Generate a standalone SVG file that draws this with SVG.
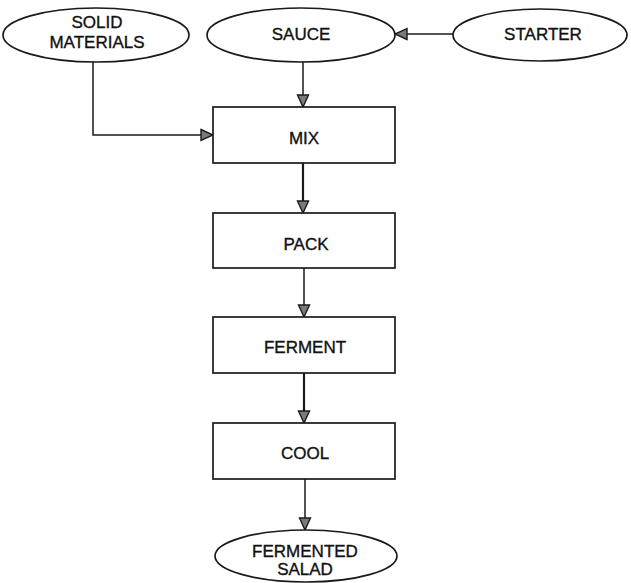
<svg xmlns="http://www.w3.org/2000/svg" width="631" height="583" viewBox="0 0 631 583">
<style>
.n{fill:#fff;stroke:#1a1a1a;stroke-width:1.7}
.t{font-family:"Liberation Sans",Arial,sans-serif;font-size:17px;fill:#111;stroke:#111;stroke-width:0.35;text-anchor:middle}
.c{fill:none;stroke:#1a1a1a;stroke-width:1.5}
.k{stroke-width:2.2}
</style>
<defs>
<marker id="ah" markerUnits="userSpaceOnUse" markerWidth="14" markerHeight="14" viewBox="0 0 14 14" refX="13" refY="7" orient="auto">
<path d="M1,1.5 L13,7 L1,12.5 Z" fill="#7a7a7a" stroke="#1a1a1a" stroke-width="1.4" stroke-linejoin="miter"/>
</marker>
</defs>
<rect width="631" height="583" fill="#fff"/>
<g id="connectors">
<path class="c" d="M93,62 V135 H213" marker-end="url(#ah)"/>
<path class="c" d="M303,62 V107" marker-end="url(#ah)"/>
<path class="c" d="M453,34 H395" marker-end="url(#ah)"/>
<path class="c k" d="M303,163 V213" marker-end="url(#ah)"/>
<path class="c" d="M304,268 V317" marker-end="url(#ah)"/>
<path class="c k" d="M304,373 V423" marker-end="url(#ah)"/>
<path class="c" d="M305,479 V530" marker-end="url(#ah)"/>
</g>
<g id="solid-materials">
<ellipse class="n" cx="96" cy="35" rx="93" ry="27"/>
<text class="t" x="97" y="28">SOLID</text>
<text class="t" x="97" y="48">MATERIALS</text>
</g>
<g id="sauce">
<ellipse class="n" cx="301" cy="35" rx="94" ry="27"/>
<text class="t" x="301" y="40">SAUCE</text>
</g>
<g id="starter">
<ellipse class="n" cx="540" cy="35" rx="87" ry="26"/>
<text class="t" x="543" y="40">STARTER</text>
</g>
<g id="mix">
<rect class="n" x="213" y="107" width="182" height="56"/>
<text class="t" x="304" y="144">MIX</text>
</g>
<g id="pack">
<rect class="n" x="213" y="213" width="182" height="55"/>
<text class="t" x="306" y="250">PACK</text>
</g>
<g id="ferment">
<rect class="n" x="213" y="317" width="182" height="56"/>
<text class="t" x="305" y="353">FERMENT</text>
</g>
<g id="cool">
<rect class="n" x="213" y="423" width="182" height="56"/>
<text class="t" x="305" y="459">COOL</text>
</g>
<g id="fermented-salad">
<ellipse class="n" cx="306" cy="556" rx="91" ry="26"/>
<text class="t" x="305" y="557">FERMENTED</text>
<text class="t" x="305" y="575">SALAD</text>
</g>
</svg>
